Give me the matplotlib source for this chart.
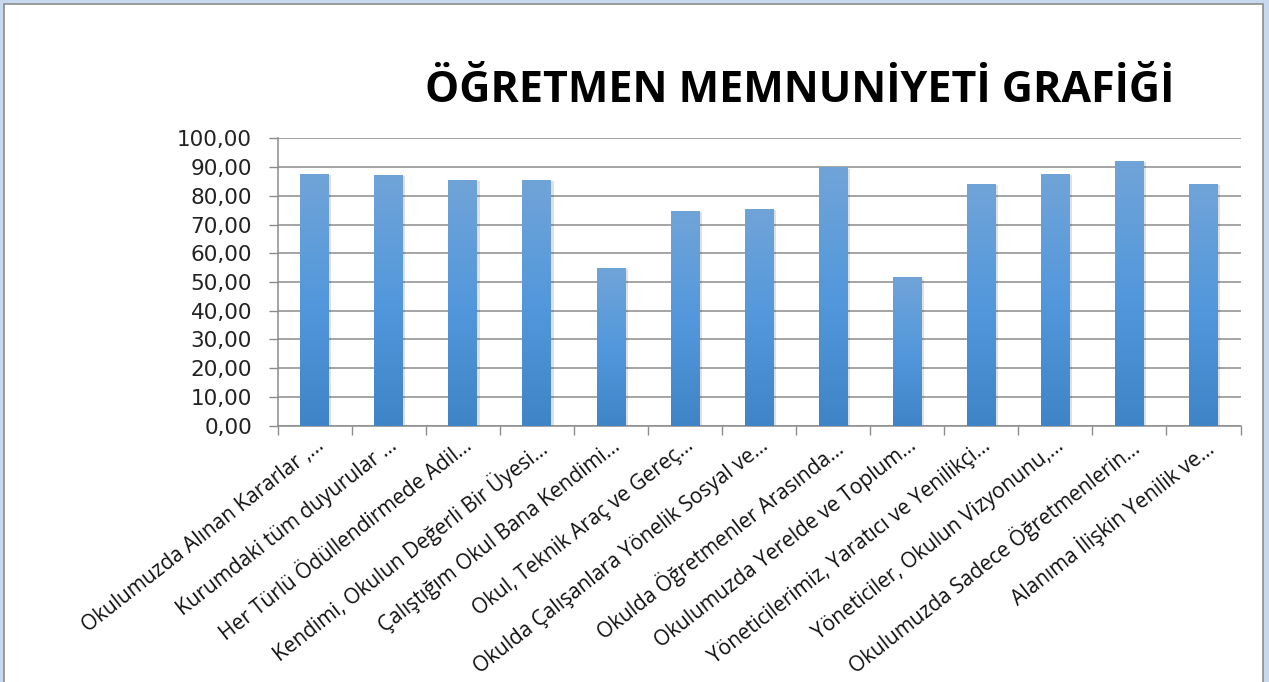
import numpy as np
import matplotlib.pyplot as plt
from matplotlib.patches import Rectangle
from matplotlib.colors import LinearSegmentedColormap

plt.rcParams['font.family'] = ['Open Sans', 'DejaVu Sans']

labels = [
    "Okulumuzda Alınan Kararlar ,…",
    "Kurumdaki tüm duyurular …",
    "Her Türlü Ödüllendirmede Adil…",
    "Kendimi, Okulun Değerli Bir Üyesi…",
    "Çalıştığım Okul Bana Kendimi…",
    "Okul, Teknik Araç ve Gereç…",
    "Okulda Çalışanlara Yönelik Sosyal ve…",
    "Okulda Öğretmenler Arasında…",
    "Okulumuzda Yerelde ve Toplum…",
    "Yöneticilerimiz, Yaratıcı ve Yenilikçi…",
    "Yöneticiler, Okulun Vizyonunu,…",
    "Okulumuzda Sadece Öğretmenlerin…",
    "Alanıma İlişkin Yenilik ve…",
]
values = [87.6, 87.2, 85.4, 85.4, 54.8, 74.7, 75.3, 89.8, 51.6, 84.1, 87.6, 92.1, 84.1]
yticks = [0, 10, 20, 30, 40, 50, 60, 70, 80, 90, 100]

W, H = 1269, 682
fig = plt.figure(figsize=(W / 100, H / 100), dpi=100, facecolor='#c6d9f0')

# white chart area with gray border
fig.patches.append(Rectangle((4 / W, -0.01), (1263 - 4) / W, 1 - 4 / H + 0.01,
                             transform=fig.transFigure, facecolor='white',
                             edgecolor='#8c8c8c', lw=1.2, zorder=-5))

ax = fig.add_axes([277.7 / W, 1 - 425.7 / H, (1240.5 - 277.7) / W, (425.7 - 138.3) / H])
ax.set_facecolor('none')
n = len(values)
x = np.arange(n)
bw = 0.39

# vertical gradient for bars
grad = np.linspace(0, 1, 256).reshape(-1, 1)
cmap = LinearSegmentedColormap.from_list('barg', ['#3f84c6', '#5398dc', '#70a4d8'])

for xi, v in zip(x, values):
    # soft shadow
    ax.add_patch(Rectangle((xi - bw / 2 + 0.03, 0), bw, v - 0.4, facecolor='#000000',
                           alpha=0.12, lw=0, zorder=2))
    ax.imshow(grad, cmap=cmap, origin='lower', aspect='auto',
              extent=(xi - bw / 2, xi + bw / 2, 0, v), zorder=3)

ax.set_xlim(-0.5, n - 0.5)
ax.set_ylim(0, 100)
ax.set_yticks(yticks)
ax.set_yticklabels([f"{t:.2f}".replace('.', ',') for t in yticks],
                   fontsize=15.5, color='#222222', family=['DejaVu Sans'])
ax.yaxis.grid(True, color='#8c8c8c', lw=1.1, zorder=1)
ax.set_axisbelow(True)

ax.set_xticks(np.arange(n + 1) - 0.5)
ax.set_xticklabels([])
ax.set_xticks(x, minor=True)
ax.set_xticklabels(labels, minor=True, rotation=38, ha='right', va='top',
                   rotation_mode='anchor', fontsize=15, color='#111111')
ax.tick_params(axis='x', which='minor', length=0, pad=7)
ax.tick_params(axis='x', which='major', length=6.5, color='#8c8c8c', width=1)
ax.tick_params(axis='y', length=6.5, color='#8c8c8c', width=1, pad=12)

for s in ['top', 'right']:
    ax.spines[s].set_visible(False)
for s in ['left', 'bottom']:
    ax.spines[s].set_color('#8c8c8c')
    ax.spines[s].set_linewidth(1.1)

fig.text(800 / W, 1 - 90 / H, "ÖĞRETMEN MEMNUNİYETİ GRAFİĞİ", ha='center', va='center',
         fontsize=31, fontweight='bold', color='black')

fig.savefig('out.png', dpi=100, facecolor=fig.get_facecolor())
